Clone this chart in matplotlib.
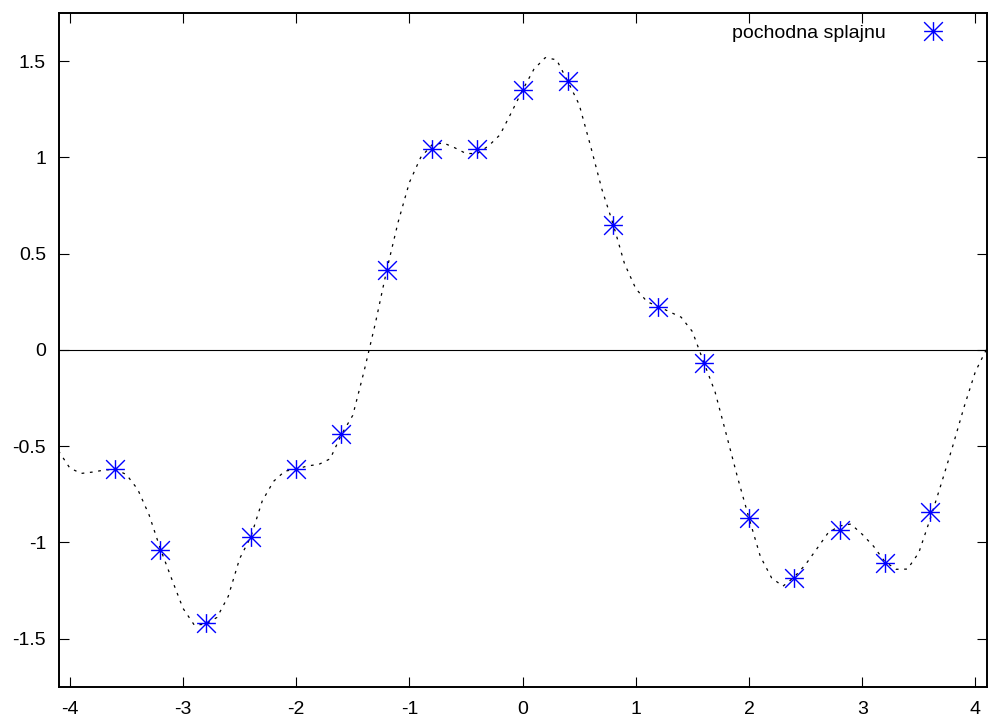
import numpy as np
import matplotlib
matplotlib.use("Agg")
import matplotlib.pyplot as plt
from matplotlib.path import Path

plt.rcParams['font.family'] = ['Liberation Sans', 'DejaVu Sans']

# derivative samples (points)
point_x = [-3.6, -3.2, -2.8, -2.4, -2.0, -1.6, -1.2, -0.8, -0.4, 0.0,
           0.4, 0.8, 1.2, 1.6, 2.0, 2.4, 2.8, 3.2, 3.6]
point_y = [-0.62, -1.04, -1.42, -0.97, -0.62, -0.435, 0.413, 1.045, 1.045, 1.352,
           1.396, 0.65, 0.225, -0.066, -0.876, -1.185, -0.935, -1.105, -0.842]

# spline derivative curve, read every 0.1 from -4.1 to 4.1
curve_x = [round(-4.1 + 0.1 * i, 1) for i in range(83)]
curve_y = [-0.525, -0.614, -0.642, -0.635, -0.625, -0.62, -0.648, -0.725, -0.857, -1.034,
           -1.19, -1.343, -1.43, -1.425, -1.39, -1.28, -1.085, -0.97, -0.785, -0.683,
           -0.63, -0.62, -0.603, -0.595, -0.566, -0.44, -0.34, -0.11, 0.14, 0.415,
           0.663, 0.87, 1.0, 1.065, 1.075, 1.05, 1.02, 1.02, 1.06, 1.117,
           1.232, 1.35, 1.458, 1.518, 1.507, 1.394, 1.274, 1.06, 0.835, 0.653,
           0.448, 0.318, 0.25, 0.225, 0.197, 0.17, 0.095, -0.064, -0.218, -0.44,
           -0.665, -0.874, -1.073, -1.185, -1.228, -1.18, -1.115, -1.033, -0.95, -0.915,
           -0.905, -0.958, -1.02, -1.1, -1.14, -1.139, -1.054, -0.88, -0.693, -0.50,
           -0.297, -0.113, 0.005]

xticks = [-4, -3, -2, -1, 0, 1, 2, 3, 4]
yticks = [-1.5, -1, -0.5, 0, 0.5, 1, 1.5]

# gnuplot style asterisk: + and x together
star = Path([(-1, 0), (1, 0), (0, -1), (0, 1), (-1, -1), (1, 1), (-1, 1), (1, -1)],
            [Path.MOVETO, Path.LINETO] * 4)

fig = plt.figure(figsize=(9.88, 7.17), dpi=100)
ax = fig.add_axes([58.5 / 988, 1 - 686.7 / 717, (986.7 - 58.5) / 988, (686.7 - 13) / 717])

ax.axhline(0, color='black', lw=0.8, zorder=1)
ax.plot(curve_x, curve_y, color='black', lw=0.9, linestyle=(0, (2.2, 4.5)), zorder=2)
ax.plot(point_x, point_y, linestyle='none', marker=star, markersize=13.5,
        markeredgewidth=1.0, color='#0000ff', label='pochodna splajnu', zorder=3)

ax.set_xlim(-4.1, 4.1)
ax.set_ylim(-1.75, 1.75)
ax.set_xticks(xticks)
ax.set_xticklabels([str(t) for t in xticks])
ax.set_yticks(yticks)
ax.set_yticklabels(['-1.5', '-1', '-0.5', '0', '0.5', '1', '1.5'])
ax.tick_params(direction='in', length=7, width=0.8, top=True, right=True,
               labelsize=14, pad=9)
ax.tick_params(axis='x', pad=10)
for s in ax.spines.values():
    s.set_linewidth(1.4)

ax.legend(loc='center right', bbox_to_anchor=(948.3 / 988, 1 - 33 / 717),
          bbox_transform=fig.transFigure, frameon=False, markerfirst=False,
          borderpad=0, borderaxespad=0, handlelength=1.6, handletextpad=1.6,
          fontsize=14)

fig.savefig('out.png', dpi=100)
